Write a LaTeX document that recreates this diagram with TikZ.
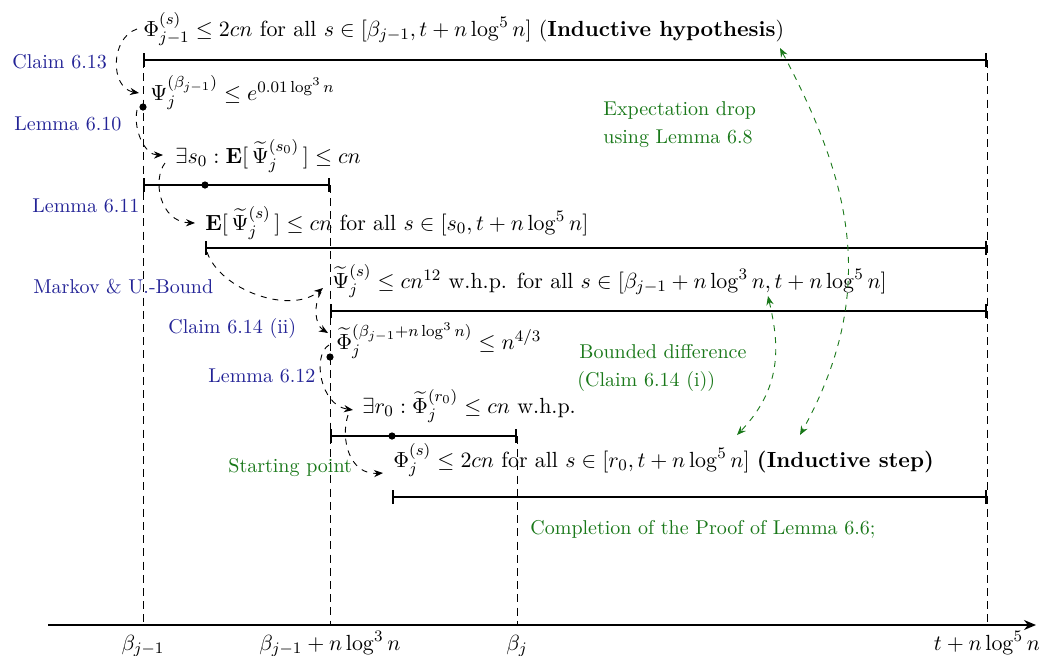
\documentclass[tikz,border=0pt]{standalone}
\usepackage{amsmath,amssymb}
\usetikzlibrary{arrows.meta}
\definecolor{lblue}{RGB}{35,35,150}
\definecolor{lgreen}{RGB}{25,120,25}
\begin{document}
\begin{tikzpicture}[x=0.5pt,y=-0.5pt,
  base/.style={anchor=base west,inner sep=0pt},
  txt/.style={base,font=\fontsize{10.95}{13.6}\selectfont},
  bl/.style={base,text=lblue},
  gl/.style={base,text=lgreen},
  interval/.style={line width=0.9pt,{Bar[width=7pt,line width=0.9pt]}-{Bar[width=7pt,line width=0.9pt]}},
  guide/.style={dash pattern=on 4pt off 2.6pt,line width=0.45pt},
  darr/.style={dashed,line width=0.45pt,-{Stealth[length=4.5pt,width=3.6pt]}},
  garr/.style={dashed,line width=0.45pt,draw=lgreen,{Stealth[length=4.5pt,width=3.6pt]}-{Stealth[length=4.5pt,width=3.6pt]}},
  dot/.style={circle,fill=black,inner sep=0pt,minimum size=3.6pt},
  axl/.style={anchor=base,inner sep=0pt,font=\fontsize{10.95}{13.6}\selectfont}]
\useasboundingbox (0,0) rectangle (1039,655);
% coordinates
\coordinate (a1) at (143,60);  \coordinate (b1) at (987,60);
\coordinate (a3) at (143,185); \coordinate (b3) at (330,185);
\coordinate (a4) at (205,248); \coordinate (b4) at (987,248);
\coordinate (a5) at (330,311); \coordinate (b5) at (987,311);
\coordinate (a7) at (330,436); \coordinate (b7) at (517,436);
\coordinate (a8) at (392,497); \coordinate (b8) at (987,497);
\coordinate (ax0) at (48,625); \coordinate (ax5) at (1036,625);
\coordinate (x1) at (143,625); \coordinate (x2) at (330,625);
\coordinate (x3) at (517,625); \coordinate (x4) at (987,625);
% guides
\draw[guide] (a1) -- (x1);
\draw[guide] (b3) -- (x2);
\draw[guide] (b7) -- (x3);
\draw[guide] (b1) -- (x4);
% axis
\draw[line width=0.8pt,-{Stealth[length=6pt,width=5pt]}] (ax0) -- (ax5);
\node[axl] (l1) at (143,650) {$\beta_{j-1}$};
\node[axl] (l2) at (330,650) {$\beta_{j-1}+n\log^3 n$};
\node[axl] (l3) at (517,650) {$\beta_{j}$};
\node[axl] (l4) at (987,650) {$t+n\log^5 n$};
% intervals
\draw[interval] (a1) -- (b1);
\draw[interval] (a3) -- (b3);
\draw[interval] (a4) -- (b4);
\draw[interval] (a5) -- (b5);
\draw[interval] (a7) -- (b7);
\draw[interval] (a8) -- (b8);
% dots
\node[dot] (d2) at (143,107) {};
\node[dot] (d3) at (205,185) {};
\node[dot] (d6) at (330,357) {};
\node[dot] (d7) at (392,436) {};
% statements
\node[txt] (t1) at (143,36) {$\Phi_{j-1}^{(s)}\le 2cn$ for all $s\in[\beta_{j-1},t+n\log^5 n]$ (\textbf{Inductive hypothesis})};
\node[txt] (t2) at (150,100) {$\Psi_j^{(\beta_{j-1})}\le e^{0.01\log^3 n}$};
\node[txt] (t3) at (175,163) {$\exists s_0:\mathbf{E}[\,\widetilde{\Psi}_j^{(s_0)}\,]\le cn$};
\node[txt] (t4) at (205,230) {$\mathbf{E}[\,\widetilde{\Psi}_j^{(s)}\,]\le cn$ for all $s\in[s_0,t+n\log^5 n]$};
\node[txt] (t5) at (332,288) {$\widetilde{\Psi}_j^{(s)}\le cn^{12}$ w.h.p. for all $s\in[\beta_{j-1}+n\log^3 n,t+n\log^5 n]$};
\node[txt] (t6) at (336,349) {$\widetilde{\Phi}_j^{(\beta_{j-1}+n\log^3 n)}\le n^{4/3}$};
\node[txt] (t7) at (362,413) {$\exists r_0:\widetilde{\Phi}_j^{(r_0)}\le cn$ w.h.p.};
\node[txt] (t8) at (393,467) {$\Phi_j^{(s)}\le 2cn$ for all $s\in[r_0,t+n\log^5 n]$ \textbf{(Inductive step)}};
% blue labels
\node[bl] (c613) at (12,68) {Claim 6.13};
\node[bl] (l610) at (14,130) {Lemma 6.10};
\node[bl] (l611) at (32,212) {Lemma 6.11};
\node[bl] (mub) at (33,293) {Markov \& U.-Bound};
\node[bl] (c614) at (168,333) {Claim 6.14 (ii)};
\node[bl] (l612) at (208,382) {Lemma 6.12};
% green labels
\node[gl] (g1a) at (603,115) {Expectation drop};
\node[gl] (g1b) at (603,143) {using Lemma 6.8};
\node[gl] (g2a) at (579,358) {Bounded difference};
\node[gl] (g2b) at (577,386) {(Claim 6.14 (i))};
\node[gl] (sp) at (228,472) {Starting point};
\node[gl] (comp) at (530,534) {Completion of the Proof of Lemma 6.6;};
% black dashed arrows
\draw[darr] ([shift={(-6,-7)}]t1.base west) .. controls (110,38) and (110,88) .. ([shift={(-11,-7)}]t2.base west);
\draw[darr] ([shift={(-6,3)}]d2.center) .. controls (133,130) and (145,155) .. ([shift={(-12,-8)}]t3.base west);
\draw[darr] ([shift={(-10,0)}]t3.base west) .. controls (152,180) and (160,222) .. ([shift={(-10,-7)}]t4.base west);
\draw[darr] ([shift={(2,4)}]a4) .. controls (220,290) and (290,315) .. ([shift={(-9,0)}]t5.base west);
\draw[darr] ([shift={(-11,4)}]t5.base west) .. controls (313,305) and (315,325) .. ([shift={(-8,-16)}]t6.base west);
\draw[darr] ([shift={(-7,-4)}]t6.base west) .. controls (312,355) and (320,405) .. ([shift={(-9,-3)}]t7.base west);
\draw[darr] ([shift={(-14,2)}]t7.base west) .. controls (340,440) and (350,475) .. ([shift={(-10,6)}]t8.base west);
% green dashed arrows
\draw[garr] ([shift={(637,12)}]t1.base west) .. controls (850,180) and (880,290) .. ([shift={(407,-32)}]t8.base west);
\draw[garr] ([shift={(436,8)}]t5.base west) .. controls (778,340) and (785,385) .. ([shift={(344,-32)}]t8.base west);
\end{tikzpicture}
\end{document}
